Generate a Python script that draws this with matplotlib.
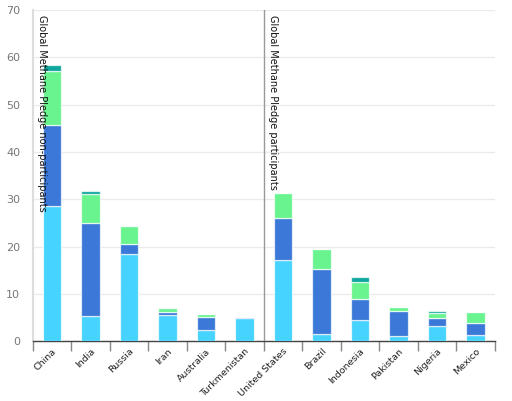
import numpy as np
import matplotlib.pyplot as plt

# -------------------- DATA --------------------

countries = ["China", "India", "Russia", "Iran", "Australia", "Turkmenistan",
             "United States", "Brazil", "Indonesia", "Pakistan", "Nigeria", "Mexico"]

seg1 = [28.6, 5.3, 18.5, 5.6, 2.4, 4.9, 17.1, 1.5, 4.4, 1.1, 3.2, 1.3]
seg2 = [17.1, 19.6, 2.0, 0.6, 2.8, 0.3, 9.0, 13.7, 4.5, 5.3, 1.8, 2.5]
seg3 = [11.4, 6.2, 3.9, 0.9, 0.6, 0.0, 5.2, 4.2, 3.6, 0.9, 1.0, 2.4]
seg4 = [1.3, 0.7, 0.0, 0.0, 0.0, 0.0, 0.0, 0.0, 1.1, 0.0, 0.3, 0.0]

group_labels = ["Global Methane Pledge non-participants",
                "Global Methane Pledge participants"]
split_index = 6

colors = ["#46d3ff", "#3c78d8", "#69f48f", "#10a89e"]

# -------------------- PLOT --------------------

fig = plt.figure(figsize=(5.12, 4.01), dpi=100)
ax = fig.add_axes([0.064, 0.149, 0.9023, 0.826])

x = np.arange(len(countries))
bottom = np.zeros(len(countries))
for vals, c in zip([seg1, seg2, seg3, seg4], colors):
    vals = np.array(vals)
    ax.bar(x, vals, width=0.47, bottom=bottom, color=c,
           edgecolor=(1, 1, 1, 0.7), linewidth=0.9, zorder=3)
    bottom += vals

ax.set_xlim(-0.5, len(countries) - 0.5)
ax.set_ylim(0, 70)
ax.set_yticks(range(0, 71, 10))
ax.yaxis.grid(True, color="#ebebeb", linewidth=1, zorder=0)
ax.tick_params(axis="y", length=0, labelsize=8, labelcolor="#777777", pad=9)

# ticks between categories
ax.set_xticks(x)
ax.set_xticklabels(countries, rotation=45, ha="right", rotation_mode="anchor",
                   fontsize=6.8, color="#222222")
ax.tick_params(axis="x", length=0, pad=4)
ax.set_xticks(np.arange(len(countries) + 1) - 0.5, minor=True)
ax.tick_params(axis="x", which="minor", length=7, color="#888888", width=1)

for s in ["top", "right"]:
    ax.spines[s].set_visible(False)
ax.spines["left"].set_color("#dddddd")
ax.spines["left"].set_linewidth(1.5)
ax.spines["bottom"].set_color("#444444")
ax.spines["bottom"].set_linewidth(1)

# group divider and labels
ax.axvline(split_index - 0.5, color="#999999", linewidth=1, zorder=4)
ax.text(-0.4, 69, group_labels[0], rotation=-90, va="top", ha="left",
        fontsize=7, color="#111111", zorder=5)
ax.text(split_index - 0.4, 69, group_labels[1], rotation=-90, va="top", ha="left",
        fontsize=7, color="#111111", zorder=5)

fig.savefig("out.png", dpi=100)
